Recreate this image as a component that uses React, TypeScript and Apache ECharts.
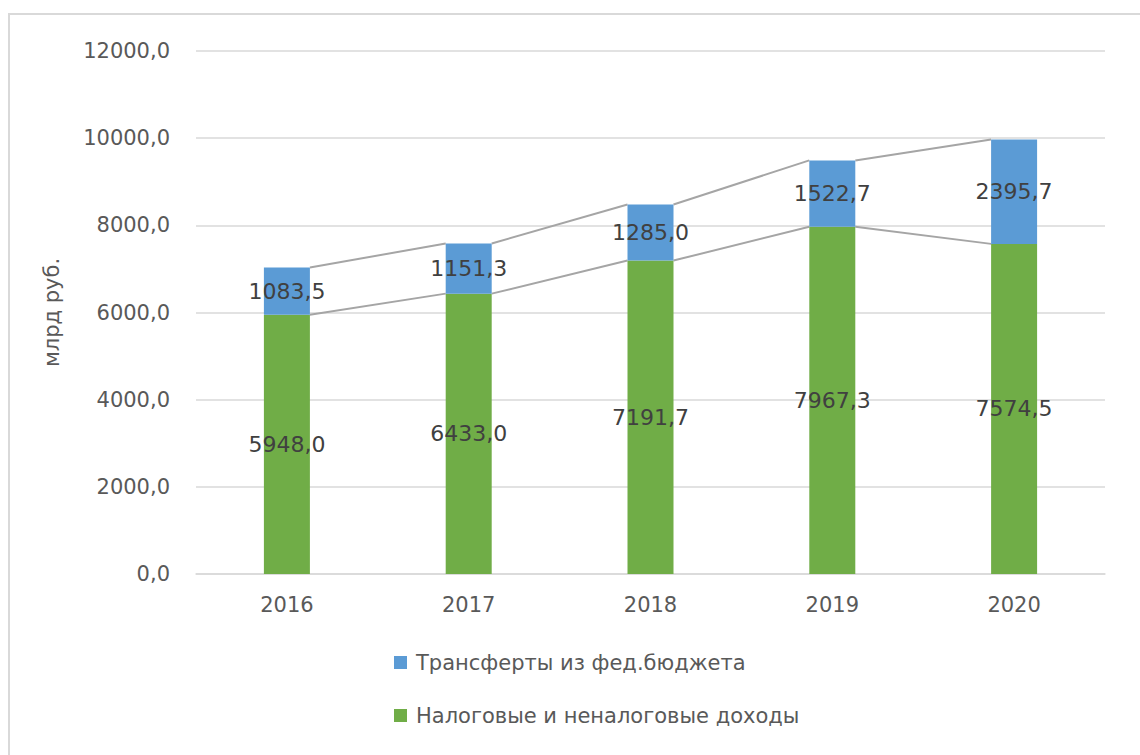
import React, { useEffect, useRef } from "react";
import * as echarts from "echarts";

const years = ["2016", "2017", "2018", "2019", "2020"];
const taxIncome = [5948.0, 6433.0, 7191.7, 7967.3, 7574.5];
const transfers = [1083.5, 1151.3, 1285.0, 1522.7, 2395.7];
const seriesNames = ["Налоговые и неналоговые доходы", "Трансферты из фед.бюджета"];
const yAxisName = "млрд руб.";

const FONT = "DejaVu Sans";
const BAR_W = 46;

const fmt = (v: number) => v.toFixed(1).replace(".", ",");

export default function App() {
  const ref = useRef<HTMLDivElement>(null);
  useEffect(() => {
    if (!ref.current) return;
    const chart = echarts.init(ref.current, undefined, { renderer: "svg" });
    const totals = taxIncome.map((v, i) => v + transfers[i]);
    const connectors = years.slice(0, -1).map((_, i) => [
      i,
      taxIncome[i],
      taxIncome[i + 1],
      totals[i],
      totals[i + 1],
    ]);
    chart.setOption({
      animation: false,
      backgroundColor: "#ffffff",
      textStyle: { fontFamily: FONT },
      graphic: [
        {
          type: "rect",
          shape: { x: 9, y: 14, width: 1300, height: 900 },
          style: { fill: "none", stroke: "#d9d9d9", lineWidth: 2 },
          silent: true,
          z: -10,
        },
      ],
      grid: { left: 196, right: 35, top: 51, bottom: 181 },
      legend: {
        orient: "vertical",
        left: 389,
        top: 647,
        itemWidth: 13,
        itemHeight: 13,
        itemGap: 32,
        icon: "rect",
        data: [seriesNames[1], seriesNames[0]],
        textStyle: {
          fontFamily: FONT,
          fontSize: 21,
          color: "#595959",
          lineHeight: 21,
          padding: [0, 0, 0, 4],
        },
      },
      xAxis: {
        type: "category",
        data: years,
        axisLine: { lineStyle: { color: "#d9d9d9", width: 1.5 } },
        axisTick: { show: false },
        axisLabel: { fontFamily: FONT, fontSize: 21, color: "#595959", margin: 20 },
      },
      yAxis: {
        type: "value",
        min: 0,
        max: 12000,
        interval: 2000,
        name: yAxisName,
        nameLocation: "middle",
        nameGap: 134,
        nameTextStyle: { fontFamily: FONT, fontSize: 21, color: "#595959" },
        axisLine: { show: false },
        axisTick: { show: false },
        splitLine: { lineStyle: { color: "#d9d9d9", width: 1.5 } },
        axisLabel: {
          fontFamily: FONT,
          fontSize: 21,
          color: "#595959",
          margin: 26,
          formatter: (v: number) => fmt(v),
        },
      },
      series: [
        {
          name: seriesNames[0],
          type: "bar",
          stack: "total",
          barWidth: BAR_W,
          data: taxIncome,
          itemStyle: { color: "#70ad47" },
          label: {
            show: true,
            position: "inside",
            fontFamily: FONT,
            fontSize: 22,
            color: "#404040",
            formatter: (p: any) => fmt(p.value),
          },
        },
        {
          name: seriesNames[1],
          type: "bar",
          stack: "total",
          barWidth: BAR_W,
          data: transfers,
          itemStyle: { color: "#5b9bd5" },
          label: {
            show: true,
            position: "inside",
            fontFamily: FONT,
            fontSize: 22,
            color: "#404040",
            formatter: (p: any) => fmt(p.value),
          },
        },
        {
          type: "custom",
          silent: true,
          data: connectors,
          z: 1,
          renderItem: (params: any, api: any) => {
            const i = api.value(0);
            const a1 = api.coord([i, api.value(1)]);
            const a2 = api.coord([i + 1, api.value(2)]);
            const b1 = api.coord([i, api.value(3)]);
            const b2 = api.coord([i + 1, api.value(4)]);
            const h = BAR_W / 2;
            const style = { stroke: "#a5a5a5", lineWidth: 2, fill: "none" };
            return {
              type: "group",
              children: [
                { type: "line", shape: { x1: a1[0] + h, y1: a1[1], x2: a2[0] - h, y2: a2[1] }, style },
                { type: "line", shape: { x1: b1[0] + h, y1: b1[1], x2: b2[0] - h, y2: b2[1] }, style },
              ],
            };
          },
        },
      ],
    });
    return () => chart.dispose();
  }, []);
  return (
    <div
      ref={ref}
      style={{ position: "fixed", left: 0, top: 0, width: 1140, height: 755 }}
    />
  );
}
